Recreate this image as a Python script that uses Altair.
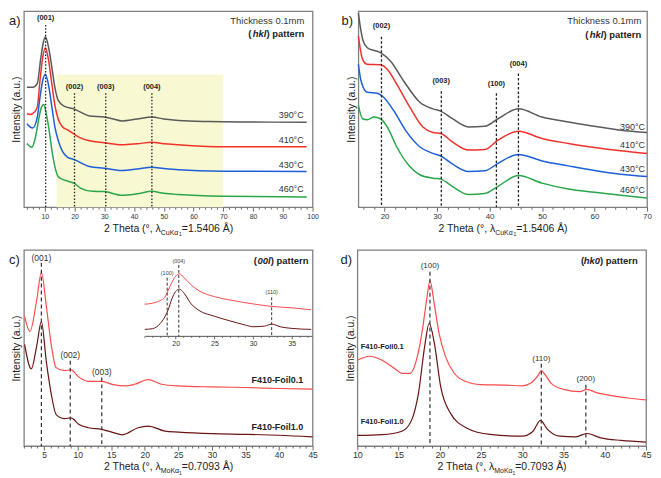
import altair as alt
import pandas as pd

FONT = "Liberation Sans"
W, H = 290, 197

# ---------------- panel a (CuKa, thickness 0.1 mm) ----------------
a390_x = [4, 6, 7.5, 8.6, 9.5, 10.2, 11.3, 12.4, 13.4, 14.5, 16.5, 20, 22, 25, 30, 33, 36, 41, 46, 50, 55, 65, 80, 98]
a390_y = [120, 120, 124, 148, 165, 171, 160, 140, 120, 107, 101, 98, 95, 91, 90, 88, 86, 88, 90, 88, 86.5, 85.5, 85, 84.7]
a410_x = [4, 5.2, 6.5, 7.5, 8.4, 9.3, 10.2, 11.3, 12.4, 13.4, 14.5, 16, 17.7, 20, 22, 25, 30, 36, 41, 46, 50, 55, 70, 98]
a410_y = [93.3, 92.5, 95, 100, 127, 150, 160, 147, 123, 102, 88, 80, 77, 72.5, 69, 66, 64, 62, 63, 64.5, 63, 62, 60, 60]
a430_x = [4, 5.9, 7.5, 8.4, 9.3, 10.2, 11.3, 12.4, 13.4, 14.5, 16, 17.7, 20, 22, 25, 30, 36, 41, 46, 50, 55, 70, 98]
a430_y = [83.3, 79, 90, 110, 126.7, 133.3, 121.7, 100, 80, 66.7, 55, 49.3, 47, 44, 40, 38.3, 36, 37.5, 39.3, 38, 36.7, 35.3, 35]
a460_x = [4, 5.7, 6.9, 8.1, 8.9, 9.7, 10.5, 11.3, 12.4, 13.4, 14.5, 16, 18, 20, 22, 26, 30, 36, 41, 46, 50, 55, 70, 98]
a460_y = [63.3, 59.5, 70, 90, 100, 102.7, 93.3, 80, 56.7, 40, 30, 27, 25, 23, 18.3, 15, 14.7, 11, 12.5, 15, 13, 11.7, 10, 9.3]
a_series = ["390°C", "410°C", "430°C", "460°C"]
a_colors = ["#5a5a5a", "#f2312b", "#1d5fd8", "#29a64a"]
a_peak_x = [10.3, 20.0, 30.5, 46.0]
a_peak_top = [183, 114, 114, 114]
a_peak_lab_y = [190, 120, 120, 120]
a_peak_lab = ["(001)", "(002)", "(003)", "(004)"]
a_temp_y = [92, 67, 42, 17]
a_band_x = [14, 70]
a_band_y = [-1, 133]
a_ticks = list(range(4, 101, 2))

# ---------------- panel b ----------------
b390_x = [15, 15.4, 15.9, 16.7, 19.2, 21.1, 23.6, 26.7, 29.2, 30.7, 32.9, 36, 39.1, 41.6, 45.5, 50, 55, 60, 65, 70]
b390_y = [195, 180, 167, 160, 155, 146.7, 126.7, 105, 98.3, 96, 88.3, 80, 80.7, 88.3, 98.3, 90, 85, 80.7, 76.7, 74.3]
b410_x = [15, 15.8, 16.7, 19.2, 20.5, 22.3, 24.8, 27.3, 29.2, 30.7, 32.9, 36, 39.1, 41.6, 45.5, 50, 55, 60, 65, 70]
b410_y = [171.7, 148.3, 143.3, 142.7, 138.3, 123.3, 100, 80, 74.3, 73.3, 65, 56.7, 57.3, 66.7, 75.7, 68.3, 63.3, 59.3, 56, 53.3]
b430_x = [15, 15.5, 16.7, 18.6, 19.8, 21.7, 24.2, 26.7, 29.2, 30.7, 32.9, 36, 39.1, 41.6, 45.5, 50, 55, 60, 65, 70]
b430_y = [143.3, 126.7, 115, 114, 110, 96.7, 75, 60, 53.3, 50.7, 42.7, 35, 35.7, 43.3, 52.3, 45.7, 40.7, 36, 32.3, 30]
b460_x = [15, 15.8, 16.7, 18, 19.2, 20.5, 22.3, 24.8, 26.7, 29.2, 30.7, 32.9, 36, 39.1, 41.6, 45.5, 50, 55, 60, 65, 70]
b460_y = [101.7, 88.3, 87.3, 90, 88.3, 80, 60, 40, 31.7, 28.3, 27.3, 20, 11.7, 12.7, 20, 31, 23.3, 17.3, 14, 11, 8.3]
b_peak_x = [19.4, 30.8, 41.3, 45.5]
b_peak_top = [171, 116, 114, 134]
b_peak_lab_y = [182, 126, 123, 144]
b_peak_lab = ["(002)", "(003)", "(100)", "(004)"]
b_temp_y = [80, 61.7, 37.7, 16.7]
b_ticks = list(range(16, 71, 2))

# ---------------- panel c (MoKa, 00l) ----------------
c01_x = [2.1, 2.9, 3.9, 4.6, 5.35, 6.1, 6.8, 8, 9, 10.2, 11.6, 13.6, 15.3, 17, 18.5, 20.5, 22.5, 25, 30, 35, 40, 45]
c01_y = [132, 117, 148.7, 177, 142, 102, 80, 77, 77.7, 70.3, 66, 66, 62.7, 61.3, 63, 67.7, 63, 61.3, 60.3, 59.7, 58.7, 58]
c10_x = [2.1, 3.1, 3.9, 4.6, 5.35, 6.1, 6.8, 8, 9, 10.2, 11.6, 13.6, 15.3, 16.7, 19, 20.5, 23, 25, 30, 35, 40, 45]
c10_y = [103.7, 78.7, 102, 127, 85.3, 52, 32, 28, 28.7, 22, 18.7, 17, 13.7, 11.5, 18.7, 20.3, 15.3, 14.3, 12.7, 12, 11, 9.3]
ci01_x = [16, 17, 18, 18.6, 19, 19.5, 20, 20.5, 21, 22, 23, 25, 27, 30, 32.4, 35, 37.5]
ci01_y = [33, 34, 36.7, 40, 46.7, 55, 61.7, 64, 60.7, 52.7, 46.7, 40.7, 37.3, 33.3, 30.7, 29.3, 27.3]
ci10_x = [16, 17, 18, 19, 19.5, 20, 20.5, 21, 22, 23, 25, 27, 29, 30, 31.5, 32.4, 33.5, 35, 37.5]
ci10_y = [7.3, 8, 13.3, 26.7, 38.3, 46, 48.3, 45, 33.3, 26.7, 20.7, 16, 11.7, 10, 10.7, 12.7, 10, 8.3, 7.3]
cd_series = ["F410-Foil0.1", "F410-Foil1.0"]
cd_colors = ["#ff4a4a", "#6b1414"]
c_peak_x = [4.6, 8.9, 13.6]
c_peak_top = [187, 87, 70]
c_peak_lab_y = [192, 92.7, 75.3]
c_peak_lab = ["(001)", "(002)", "(003)"]
c_sample_y = [67, 19.3]
ci_peak_x = [18.9, 20.4, 32.4]
ci_peak_top = [60, 73, 40]
ci_peak_lab_y = [65, 77, 45]
ci_peak_lab = ["(100)", "(004)", "(110)"]
c_ticks = list(range(2, 46, 1))
ci_ticks = list(range(16, 38, 1))

# ---------------- panel d (hk0) ----------------
d01_x = [10, 11.5, 13, 14.5, 15.5, 16.4, 17.2, 17.9, 18.4, 18.8, 19.35, 19.9, 20.7, 21.7, 22.9, 25, 28, 30, 31, 31.8, 32.3, 32.8, 33.5, 35, 37, 37.8, 39, 41, 43, 45]
d01_y = [86.7, 90.7, 86.7, 78.3, 73.3, 73.3, 88, 118, 148, 166.7, 142, 114, 90, 74, 66, 62, 61.5, 60.7, 63.3, 70, 76, 71.7, 63.3, 57.3, 55, 57.3, 54, 50.7, 48.3, 46.7]
d10_x = [10, 13, 15.4, 16.6, 17.4, 18.2, 18.7, 19.35, 20.1, 21.3, 23.3, 26.1, 30, 31.3, 32.2, 33, 34.5, 36.5, 37.8, 39.5, 42, 45]
d10_y = [10.7, 11.5, 15, 26.7, 53, 103, 124, 103, 60, 33, 18, 11.7, 10, 15, 26, 17.3, 10, 9.3, 12.7, 8.3, 5.7, 4]
d_peak_x = [18.8, 32.3, 37.7]
d_peak_top = [176, 83, 62]
d_peak_lab_y = [181.7, 88.3, 67.3]
d_peak_lab = ["(100)", "(110)", "(200)"]
d_sample_y = [100, 24.3]
d_ticks = list(range(10, 46, 1))


# ---------------- helpers ----------------
def make_x(dom, ticks, step, fs, rng=None, offset=None, major=4, minor=2):
    sc = alt.Scale(domain=dom, nice=False, zero=False) if rng is None else \
        alt.Scale(domain=dom, nice=False, zero=False, range=rng)
    is_major = f"datum.value % {step} === 0"
    ax = dict(values=ticks, labelExpr=f"{is_major} ? datum.label : ''",
              title=None, grid=False, domain=False,
              tickSize={"condition": {"test": is_major, "value": major}, "value": minor},
              tickWidth=0.8, tickColor="#444", labelFontSize=fs, labelPadding=1,
              labelFlush=False, labelOverlap=False, labelColor="#333", labelFont=FONT,
              minExtent=0)
    if offset is not None:
        ax.update(orient="bottom", offset=offset, domain=True, domainColor="#555",
                  domainWidth=1)
    return alt.X("x:Q", scale=sc, axis=alt.Axis(**ax))


def make_y(dom, rng=None, show=True):
    sc = alt.Scale(domain=dom, nice=False, zero=False) if rng is None else \
        alt.Scale(domain=dom, nice=False, zero=False, range=rng)
    if not show:
        return alt.Y("y:Q", scale=sc, axis=None)
    return alt.Y("y:Q", scale=sc, axis=alt.Axis(
        title="Intensity (a.u.)", labels=False, ticks=False, domain=False, grid=False,
        titleFontSize=10.5, titleFont=FONT, titleFontWeight="normal", titleColor="#222",
        titlePadding=2, minExtent=0))


def lines(xs_list, ys_list, colors, X, Y, width):
    out = []
    for xs, ys, col in zip(xs_list, ys_list, colors):
        df = pd.DataFrame({"x": xs, "y": ys})
        out.append(alt.Chart(df).mark_line(interpolate="monotone", strokeWidth=width,
                                           color=col).encode(x=X, y=Y))
    return out


def rules(xs, tops, bottom, X, Y, dash, width, color="#222"):
    df = pd.DataFrame({"x": xs, "y": tops, "y0": [bottom] * len(xs)})
    return alt.Chart(df).mark_rule(strokeDash=dash, strokeWidth=width, color=color).encode(
        x=X, y=Y, y2="y0")


def dtext(xs, ys, texts, X, Y, size, weight="normal", style="normal", align="center",
          color="#222", dx=0, dy=0):
    df = pd.DataFrame({"x": xs, "y": ys, "t": texts})
    return alt.Chart(df).mark_text(font=FONT, fontSize=size, fontWeight=weight, fontStyle=style,
                                   align=align, baseline="middle", color=color, dx=dx, dy=dy).encode(
        x=X, y=Y, text="t:N")


def ptext(text, x, y, size, align="left", baseline="middle", weight="normal", color="#222"):
    return alt.Chart(pd.DataFrame({"k": [0]})).mark_text(
        text=text, font=FONT, fontSize=size, align=align, baseline=baseline,
        fontWeight=weight, color=color).encode(x=alt.value(x), y=alt.value(y))


def pattern(x, y, ital, X, Y, w1, w2, size=9.5):
    return [
        dtext([x], [y], [") pattern"], X, Y, size, weight="bold", align="right"),
        dtext([x], [y], [ital], X, Y, size, weight="bold", style="italic", align="right", dx=-w1),
        dtext([x], [y], ["("], X, Y, size, weight="bold", align="right", dx=-(w1 + w2)),
    ]


def xtitle(sub, rest):
    c = W / 2
    return [
        ptext("2 Theta (°, λ", c - 7.5, H + 24.5, 10.5, align="right", baseline="alphabetic"),
        ptext(sub, c - 7.5, H + 27.5, 7, align="left", baseline="alphabetic"),
        ptext("1", c + 10.8, H + 29, 5, align="left", baseline="alphabetic"),
        ptext(rest, c + 13.6, H + 24.5, 10.5, align="left", baseline="alphabetic"),
    ]


# ---------------- panel a ----------------
Xa = make_x([3, 100], a_ticks, 10, 7)
Ya = make_y([-1, 197])
band = alt.Chart(pd.DataFrame({"x": [a_band_x[0]], "x2": [a_band_x[1]],
                               "y": [a_band_y[0]], "y2": [a_band_y[1]]})).mark_rect(
    color="#f8f8d3").encode(x=Xa, x2="x2", y=Ya, y2="y2")
pa = alt.layer(
    band,
    *lines([a390_x, a410_x, a430_x, a460_x], [a390_y, a410_y, a430_y, a460_y],
           a_colors, Xa, Ya, 1.5),
    rules(a_peak_x, a_peak_top, -1, Xa, Ya, [1.5, 1.8], 1.3),
    dtext(a_peak_x, a_peak_lab_y, a_peak_lab, Xa, Ya, 7.5, weight="bold"),
    dtext([97] * 4, a_temp_y, a_series, Xa, Ya, 9, align="right", color="#333"),
    dtext([97.2], [187], ["Thickness 0.1mm"], Xa, Ya, 9.5, align="right", color="#333"),
    *pattern(97.2, 174, "hkl", Xa, Ya, 38, 15),
    ptext("a)", -15, 10, 13),
    *xtitle("CuKα", "=1.5406 Å)"),
).properties(width=W, height=H)

# ---------------- panel b ----------------
Xb = make_x([15, 70], b_ticks, 10, 8)
Yb = make_y([-1, 197])
pb = alt.layer(
    *lines([b390_x, b410_x, b430_x, b460_x], [b390_y, b410_y, b430_y, b460_y],
           a_colors, Xb, Yb, 1.5),
    rules(b_peak_x, b_peak_top, -1, Xb, Yb, [2.5, 2], 1.3),
    dtext(b_peak_x, b_peak_lab_y, b_peak_lab, Xb, Yb, 7.5, weight="bold"),
    dtext([69.6] * 4, b_temp_y, a_series, Xb, Yb, 9, align="right", color="#333"),
    dtext([68.9], [187.3], ["Thickness 0.1mm"], Xb, Yb, 9.5, align="right", color="#333"),
    *pattern(68.9, 173, "hkl", Xb, Yb, 38, 15),
    ptext("b)", -17, 10, 13),
    *xtitle("CuKα", "=1.5406 Å)"),
).properties(width=W, height=H)

# ---------------- panel c ----------------
Xc = make_x([2, 45], c_ticks, 5, 8.5)
Yc = make_y([0, 200])
f = H / 200.0
Xi = make_x([16, 37.6], ci_ticks, 5, 7, rng=[0.4185 * W, 0.9977 * W], offset=87.6 * f - H,
            major=3, minor=1.5)
Yi = make_y([0, 80], rng=[88.3 * f, 8.3 * f], show=False)
main_c = alt.layer(
    *lines([c01_x, c10_x], [c01_y, c10_y], cd_colors, Xc, Yc, 1.2),
    rules(c_peak_x, c_peak_top, 0, Xc, Yc, [4, 3], 1.2, "#333"),
    dtext(c_peak_x, c_peak_lab_y, c_peak_lab, Xc, Yc, 8.5, color="#333"),
    dtext([43.6] * 2, c_sample_y, cd_series, Xc, Yc, 9, weight="bold", align="right"),
    *pattern(44.4, 188.7, "00l", Xc, Yc, 38, 14),
    ptext("c)", -15, 10, 13),
    *xtitle("MoKα", "=0.7093 Å)"),
)
inset_c = alt.layer(
    *lines([ci01_x, ci10_x], [ci01_y, ci10_y], cd_colors, Xi, Yi, 1.0),
    rules(ci_peak_x, ci_peak_top, 0, Xi, Yi, [3, 2], 1.0, "#333"),
    dtext(ci_peak_x, ci_peak_lab_y, ci_peak_lab, Xi, Yi, 5.5, color="#444"),
)
pc = alt.layer(main_c, inset_c).resolve_scale(x="independent", y="independent").properties(
    width=W, height=H)

# ---------------- panel d ----------------
Xd = make_x([10, 45], d_ticks, 5, 9)
Yd = make_y([0, 198])
pdd = alt.layer(
    *lines([d01_x, d10_x], [d01_y, d10_y], cd_colors, Xd, Yd, 1.2),
    rules(d_peak_x, d_peak_top, 0, Xd, Yd, [4, 3], 1.2, "#333"),
    dtext(d_peak_x, d_peak_lab_y, d_peak_lab, Xd, Yd, 8, color="#333"),
    dtext([10.4] * 2, d_sample_y, cd_series, Xd, Yd, 7.5, weight="bold", align="left"),
    *pattern(44.0, 187.3, "hk0", Xd, Yd, 38, 16),
    ptext("d)", -17, 10, 13),
    *xtitle("MoKα", "=0.7093 Å)"),
).properties(width=W, height=H)

chart = alt.vconcat(
    alt.hconcat(pa, pb, spacing=21),
    alt.hconcat(pc, pdd, spacing=21),
    spacing=11,
).properties(padding=0).configure_view(stroke="#808080", strokeWidth=1.3)

chart.save("out.html", embed_options={"renderer": "svg", "actions": False})
